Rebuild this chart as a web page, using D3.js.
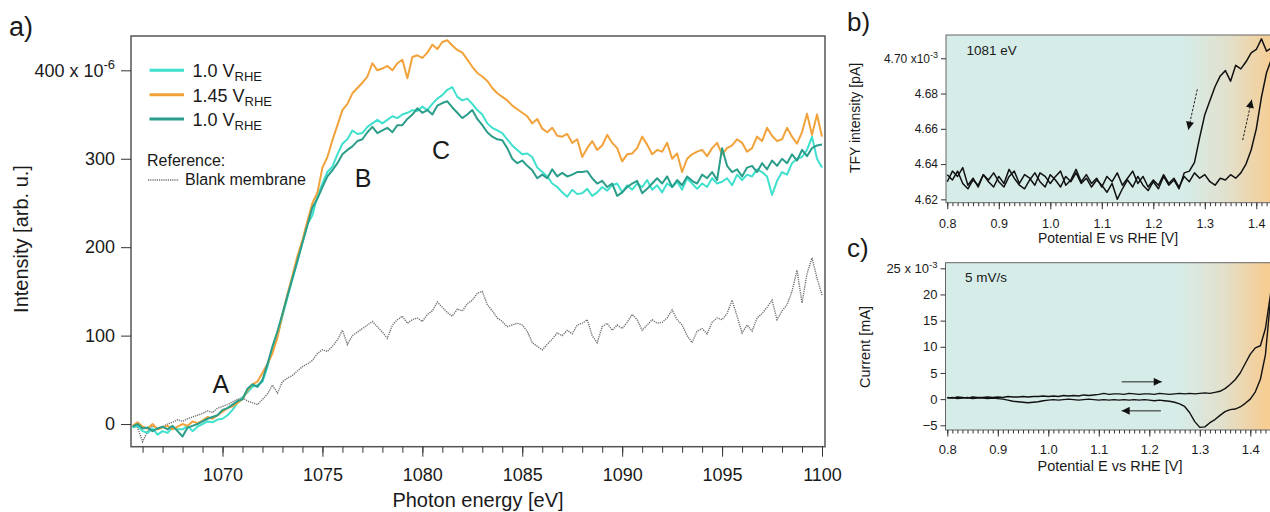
<!DOCTYPE html>
<html><head><meta charset="utf-8">
<script src="https://cdn.jsdelivr.net/npm/d3@7"></script>
<style>
body{margin:0;background:#fff}
svg{display:block}
text{font-family:Arial,"Liberation Sans",sans-serif;fill:#1a1a1a}
</style>
</head><body>
<svg id="chart" width="1270" height="512"></svg>
<script>
// ---------------- DATA ----------------
// Panel a: photon energy grid (start, step in eV)
const energyStart = 1065.5, energyStep = 0.25;
const seriesLabels = ["1.0", "1.45", "1.0"];
const xTicksA = [1070, 1075, 1080, 1085, 1090, 1095, 1100];
const yTicksA = [0, 100, 200, 300, 400];

const turquoise10 = [ -4, -2,
 -8, -10, -5, -12,  -8, -10, -4, -6,  -6, -2, -8, -3,  0, 3, 2, 5,
 6, 10, 16, 24,  30, 36, 42, 44,  48, 65, 85, 100,  122, 143, 164, 184,
 205, 226, 236, 258,  272, 285, 291, 305,  317, 322, 332, 328,  329, 336, 340, 344,
 340, 344, 348, 346,  350, 352, 355, 354,  359, 355, 362, 368,  372, 378, 381, 370,
 366, 368, 362, 355,  350, 340, 335, 332,  329, 322, 315, 310,  305, 306, 302, 290,
 285, 280, 272, 268,  262, 257, 265, 260,  261, 266, 258, 262,  268, 264, 270, 272,
 262, 270, 265, 272,  268, 276, 265, 270,  262, 272, 268, 274,  265, 278, 272, 266,
 272, 268, 278, 272,  274, 278, 270, 282,  276, 282, 280, 288,  285, 280, 259, 275,
 285, 282, 295, 300,  302, 310, 325, 300,  290];

const orange145 = [ -2, 2,
 -3, -5, 0, -6,  -4, -2, -6, -3,  0, -2, 3, 1,  4, 8, 6, 10,
 14, 18, 20, 24,  28, 38, 45, 48,  58, 68, 80, 98,  124, 147, 168, 190,
 208, 230, 250, 262,  290, 302, 321, 338,  355, 362, 374, 380,  386, 393, 408, 400,
 402, 405, 400, 408,  412, 391, 415, 417,  414, 420, 429, 424,  432, 434, 428, 423,
 420, 412, 404, 397,  393, 388, 380, 374,  370, 366, 360, 356,  352, 348, 340, 345,
 334, 330, 335, 326,  325, 328, 318, 322,  302, 312, 320, 310,  315, 327, 318, 312,
 297, 305, 306, 312,  325, 316, 305, 310,  308, 318, 300, 306,  285, 300, 305, 308,
 310, 303, 312, 318,  305, 312, 315, 322,  318, 308, 312, 325,  320, 335, 326, 320,
 322, 335, 325, 317,  330, 351, 327, 350,  325];

const teal10 = [ -3, 0,
 -5, -4, -8, -5,  -3, -6, -2, -8,  -14, -4, -2, 0,  3, 6, 8, 10,
 16, 18, 22, 26,  28, 40, 45, 42,  50, 68, 88, 105,  125, 145, 165, 185,
 205, 225, 245, 255,  268, 280, 287, 295,  305, 310, 314, 320,  322, 330, 336, 329,
 332, 335, 330, 338,  338, 345, 350, 357,  352, 355, 350, 360,  363, 365, 358, 352,
 346, 350, 355, 345,  338, 330, 325, 322,  321, 312, 300, 295,  298, 292, 287, 278,
 282, 278, 288, 280,  284, 280, 282, 285,  285, 286, 278, 272,  275, 268, 272, 258,
 262, 268, 272, 275,  261, 266, 272, 278,  272, 280, 268, 276,  270, 280, 275, 272,
 282, 278, 285, 276,  312, 292, 285, 288,  280, 290, 292, 285,  295, 288, 298, 292,
 300, 295, 305, 298,  310, 303, 312, 315,  316];

const blankMembrane = [ -2, -4,
 -20, -8, -2, -5,  -3, 0, 2, 5,  3, 6, 8, 10,  12, 15, 13, 18,
 20, 22, 25, 28,  30, 26, 24, 22,  28, 34, 44, 35,  48, 52, 55, 60,
 65, 68, 72, 80,  84, 82, 88, 95,  106, 90, 100, 104,  108, 112, 116, 110,
 104, 97, 112, 118,  122, 114, 118, 120,  116, 124, 128, 138,  132, 126, 122, 130,
 128, 136, 140, 148,  150, 135, 128, 120,  116, 110, 112, 114,  112, 105, 92, 88,
 84, 90, 96, 103,  100, 106, 102, 112,  114, 118, 100, 92,  110, 114, 106, 112,
 108, 115, 124, 118,  106, 112, 118, 114,  115, 120, 129, 118,  112, 100, 92, 105,
 108, 102, 115, 120,  118, 125, 140, 122,  103, 112, 105, 120,  125, 132, 140, 118,
 128, 135, 150, 174,  137, 170, 188, 165,  146];

// peak labels [energy, intensity, text]
const peakLabels = [[1069.92, 45, "A"], [1077.03, 278, "B"], [1080.94, 310, "C"]];

// Panel b: TFY at 1081 eV vs potential, 0.80 ... 1.44 V step 0.01
const potStartB = 0.80, potStepB = 0.01;
const xTicksBC = [0.8, 0.9, 1.0, 1.1, 1.2, 1.3, 1.4];
const yTicksB = [4.62, 4.64, 4.66, 4.68, 4.70];
const tfyForward = [
 4.630, 4.636, 4.633, 4.638, 4.628, 4.632, 4.627, 4.634, 4.631, 4.635,
 4.630, 4.627, 4.633, 4.636, 4.629, 4.634, 4.632, 4.628, 4.635, 4.633,
 4.629, 4.633, 4.636, 4.628, 4.631, 4.637, 4.630, 4.634, 4.629, 4.632,
 4.627, 4.633, 4.630, 4.635, 4.628, 4.632, 4.636, 4.629, 4.633, 4.627,
 4.631, 4.628, 4.634, 4.629, 4.632, 4.627, 4.633, 4.630, 4.635, 4.632,
 4.634, 4.630, 4.628, 4.632, 4.631, 4.634, 4.632, 4.635, 4.640, 4.648,
 4.660, 4.678, 4.692, 4.700, 4.706];
const tfyReverse = [
 4.634, 4.631, 4.636, 4.629, 4.626, 4.631, 4.628, 4.634, 4.630, 4.627,
 4.633, 4.629, 4.637, 4.632, 4.628, 4.626, 4.631, 4.635, 4.630, 4.627,
 4.634, 4.631, 4.627, 4.633, 4.630, 4.635, 4.629, 4.632, 4.627, 4.631,
 4.628, 4.624, 4.629, 4.620, 4.626, 4.631, 4.627, 4.633, 4.628, 4.625,
 4.630, 4.626, 4.633, 4.628, 4.631, 4.626, 4.635, 4.636, 4.641, 4.655,
 4.668, 4.676, 4.684, 4.690, 4.693, 4.687, 4.696, 4.694, 4.698, 4.703,
 4.705, 4.711, 4.704, 4.706, 4.704];
// dashed arrows [[V0,T0],[V1,T1]]
const arrowsB = [[[1.2854, 4.6824], [1.2680, 4.6595]], [[1.3736, 4.6536], [1.3910, 4.6765]]];

// Panel c: CV current (mA) at 5 mV/s, 0.80 ... 1.45 V step 0.01
const potStartC = 0.80, potStepC = 0.01;
const yTicksC = [-5, 0, 5, 10, 15, 20, 25];
const currentForward = [
 0.3, 0.2, 0.4, 0.3, 0.2, 0.4, 0.3, 0.3, 0.4, 0.3,
 0.4, 0.3, 0.5, 0.4, 0.4, 0.5, 0.4, 0.5, 0.5, 0.6,
 0.5, 0.6, 0.5, 0.7, 0.6, 0.7, 0.6, 0.8, 0.7, 0.8,
 0.9, 1.1, 0.9, 1.0, 1.0, 0.9, 1.1, 1.0, 0.9, 1.0,
 1.0, 0.9, 1.1, 1.0, 0.9, 1.0, 1.1, 1.0, 1.1, 1.0,
 1.1, 1.2, 1.1, 1.3, 1.5, 2.0, 2.8, 3.7, 5.0, 6.8,
 8.6, 9.8, 10.2, 13.5, 20.0, 30.0];
const currentReverse = [
 0.2, 0.3, 0.1, 0.2, 0.3, 0.1, 0.2, 0.2, 0.1, 0.2,
 0.1, 0.0, -0.2, -0.4, -0.5, -0.6, -0.7, -0.6, -0.5, -0.3,
 -0.2, -0.1, -0.2, -0.1, 0.0, -0.1, -0.2, -0.1, 0.0, -0.1,
 -0.2, -0.1, -0.2, -0.1, -0.2, -0.1, -0.2, -0.1, -0.2, -0.1,
 -0.2, -0.3, -0.2, -0.3, -0.4, -0.6, -0.9, -1.4, -2.6, -4.3,
 -5.4, -5.3, -4.5, -3.9, -3.1, -2.4, -2.0, -1.9, -1.5, -0.8,
 0.0, 1.4, 3.8, 8.5, 19.0, 30.0];
// arrows [[V0,I0],[V1,I1]]
const arrowsC = [[[1.1453, 3.3], [1.2246, 3.3]], [[1.2230, -2.24], [1.1453, -2.24]]];

// ---------------- DRAW ----------------
const svg = d3.select("#chart");
const defs = svg.append("defs");
const colors = {turq: "#3fe0cd", orange: "#f1a23a", teal: "#2b9d8b", ref: "#6e6e6e"};

function styleAxis(g, fs) {
  g.select(".domain").remove();
  g.selectAll(".tick line").attr("stroke", "#333").attr("stroke-width", 1);
  g.selectAll(".tick text").attr("font-size", fs).attr("fill", "#1a1a1a")
    .attr("font-family", "Arial, 'Liberation Sans', sans-serif");
}

// ===== Panel a =====
const ax = d3.scaleLinear().domain([1065.42, 1100.15]).range([131, 825]);
const ay = d3.scaleLinear().domain([-25.6, 438.8]).range([446.7, 36]);
const energy = d3.range(orange145.length).map(i => energyStart + i * energyStep);

defs.append("clipPath").attr("id", "clipA").append("rect")
  .attr("x", ax.range()[0]).attr("y", ay.range()[1])
  .attr("width", ax.range()[1] - ax.range()[0]).attr("height", ay.range()[0] - ay.range()[1]);

const gA = svg.append("g");
const lineA = d3.line().x((d, i) => ax(energy[i])).y(d => ay(d));
const plotA = gA.append("g").attr("clip-path", "url(#clipA)");
plotA.append("path").attr("d", lineA(blankMembrane)).attr("fill", "none")
  .attr("stroke", colors.ref).attr("stroke-width", 1.4).attr("stroke-dasharray", "1.2,1");
plotA.append("path").attr("d", lineA(turquoise10)).attr("fill", "none")
  .attr("stroke", colors.turq).attr("stroke-width", 2).attr("stroke-linejoin", "round");
plotA.append("path").attr("d", lineA(orange145)).attr("fill", "none")
  .attr("stroke", colors.orange).attr("stroke-width", 2).attr("stroke-linejoin", "round");
plotA.append("path").attr("d", lineA(teal10)).attr("fill", "none")
  .attr("stroke", colors.teal).attr("stroke-width", 2).attr("stroke-linejoin", "round");

gA.append("rect").attr("x", ax.range()[0]).attr("y", ay.range()[1])
  .attr("width", ax.range()[1] - ax.range()[0]).attr("height", ay.range()[0] - ay.range()[1])
  .attr("fill", "none").attr("stroke", "#555").attr("stroke-width", 1.5);

gA.append("g").attr("transform", `translate(0,${ay.range()[0]})`)
  .call(d3.axisBottom(ax).tickValues(d3.range(1066, 1101)).tickSize(6).tickFormat(""))
  .call(g => styleAxis(g, 18));
gA.append("g").attr("transform", `translate(0,${ay.range()[0]})`)
  .call(d3.axisBottom(ax).tickValues(xTicksA).tickSize(10).tickPadding(12).tickFormat(d3.format("d")))
  .call(g => styleAxis(g, 18));
const yAxA = gA.append("g").attr("transform", `translate(${ax.range()[0]},0)`)
  .call(d3.axisLeft(ay).tickValues(yTicksA).tickSize(10).tickPadding(6).tickFormat(d3.format("d")))
  .call(g => styleAxis(g, 18));
yAxA.selectAll(".tick text").filter(d => d === 400).each(function () {
  const t = d3.select(this).text("");
  t.append("tspan").text("400 x 10");
  t.append("tspan").attr("dy", "-0.55em").attr("font-size", 13).text("-6");
});

gA.append("text").attr("x", 9).attr("y", 36).attr("font-size", 27).text("a)");
gA.append("text").attr("x", 478).attr("y", 507).attr("text-anchor", "middle")
  .attr("font-size", 20).text("Photon energy [eV]");
gA.append("text").attr("transform", "translate(28,239) rotate(-90)").attr("text-anchor", "middle")
  .attr("font-size", 20).text("Intensity [arb. u.]");

peakLabels.forEach(([e, v, s]) => {
  gA.append("text").attr("x", ax(e)).attr("y", ay(v)).attr("dy", "0.36em")
    .attr("text-anchor", "middle").attr("font-size", 25).text(s);
});

// legend
const legCols = [colors.turq, colors.orange, colors.teal];
seriesLabels.forEach((lab, i) => {
  const yy = 70.3 + i * 24.4;
  gA.append("line").attr("x1", 149.5).attr("x2", 184).attr("y1", yy).attr("y2", yy)
    .attr("stroke", legCols[i]).attr("stroke-width", 3);
  const t = gA.append("text").attr("x", 192.5).attr("y", yy + 7).attr("font-size", 18);
  t.append("tspan").text(lab + " V");
  t.append("tspan").attr("dy", 4).attr("font-size", 13).text("RHE");
});
gA.append("text").attr("x", 147).attr("y", 166).attr("font-size", 16).text("Reference:");
gA.append("line").attr("x1", 148).attr("x2", 179).attr("y1", 180).attr("y2", 180)
  .attr("stroke", colors.ref).attr("stroke-width", 1.4).attr("stroke-dasharray", "1.2,1");
gA.append("text").attr("x", 185).attr("y", 185).attr("font-size", 16).text("Blank membrane");

// ===== shared for b & c =====
function bgGradient(id, xs) {
  const gr = defs.append("linearGradient").attr("id", id)
    .attr("gradientUnits", "userSpaceOnUse")
    .attr("x1", xs(1.26)).attr("x2", xs(1.43)).attr("y1", 0).attr("y2", 0);
  gr.append("stop").attr("offset", 0).attr("stop-color", "#d6ece8");
  gr.append("stop").attr("offset", 0.5).attr("stop-color", "#e2e0cc");
  gr.append("stop").attr("offset", 1).attr("stop-color", "#f6cd93");
}
function arrowMarker(id, len, wid) {
  defs.append("marker").attr("id", id).attr("viewBox", "0 0 10 10")
    .attr("refX", 10).attr("refY", 5).attr("markerUnits", "userSpaceOnUse")
    .attr("markerWidth", len).attr("markerHeight", wid).attr("orient", "auto")
    .append("path").attr("d", "M0,0L10,5L0,10z").attr("fill", "#111");
}
arrowMarker("arrB", 9, 8);
arrowMarker("arrC", 12, 8);

// ===== Panel b =====
const bx = d3.scaleLinear().domain([0.8, 1.45]).range([947.3, 947.3 + 0.65 * 515]);
const by = d3.scaleLinear().domain([4.6181, 4.7132]).range([202.7, 35]);
const potB = d3.range(tfyForward.length).map(i => potStartB + i * potStepB);
const leftB = 946, rightB = 1290;
bgGradient("gradB", bx);
defs.append("clipPath").attr("id", "clipB").append("rect")
  .attr("x", leftB).attr("y", by.range()[1]).attr("width", rightB - leftB).attr("height", by.range()[0] - by.range()[1]);
const gB = svg.append("g");
gB.append("rect").attr("x", leftB).attr("y", by.range()[1]).attr("width", rightB - leftB)
  .attr("height", by.range()[0] - by.range()[1]).attr("fill", "url(#gradB)")
  .attr("stroke", "#666").attr("stroke-width", 1);
const lineB = d3.line().x((d, i) => bx(potB[i])).y(d => by(d));
const plotB = gB.append("g").attr("clip-path", "url(#clipB)");
[tfyForward, tfyReverse].forEach(s => plotB.append("path").attr("d", lineB(s)).attr("fill", "none")
  .attr("stroke", "#111").attr("stroke-width", 1.5).attr("stroke-linejoin", "round"));
arrowsB.forEach(([p0, p1]) => plotB.append("line")
  .attr("x1", bx(p0[0])).attr("y1", by(p0[1])).attr("x2", bx(p1[0])).attr("y2", by(p1[1]))
  .attr("stroke", "#222").attr("stroke-width", 1).attr("stroke-dasharray", "2.5,1.5")
  .attr("marker-end", "url(#arrB)"));
gB.append("g").attr("transform", `translate(0,${by.range()[0]})`)
  .call(d3.axisBottom(bx).tickValues(d3.range(80, 143).map(v => v / 100)).tickSize(3.5).tickFormat(""))
  .call(g => styleAxis(g, 12));
gB.append("g").attr("transform", `translate(0,${by.range()[0]})`)
  .call(d3.axisBottom(bx).tickValues(xTicksBC).tickSize(6.5).tickPadding(9.5).tickFormat(d3.format(".1f")))
  .call(g => styleAxis(g, 12.5));
const yAxB = gB.append("g").attr("transform", `translate(${leftB},0)`)
  .call(d3.axisLeft(by).tickValues(yTicksB).tickSize(5).tickPadding(3).tickFormat(d3.format(".2f")))
  .call(g => styleAxis(g, 12));
yAxB.selectAll(".tick text").filter(d => d === 4.70).each(function () {
  const t = d3.select(this).text("");
  t.append("tspan").text("4.70 x10");
  t.append("tspan").attr("dy", "-0.5em").attr("font-size", 9).text("-3");
});
gB.append("text").attr("x", 847).attr("y", 31).attr("font-size", 26).text("b)");
gB.append("text").attr("x", 966.5).attr("y", 55).attr("font-size", 13.5).text("1081 eV");
gB.append("text").attr("x", 1108).attr("y", 243).attr("text-anchor", "middle").attr("font-size", 14).text("Potential E vs RHE [V]");
gB.append("text").attr("transform", "translate(860,118) rotate(-90)").attr("text-anchor", "middle")
  .attr("font-size", 14).text("TFY intensity [pA]");

// ===== Panel c =====
const cx = d3.scaleLinear().domain([0.8, 1.45]).range([947.3, 947.3 + 0.65 * 505]);
const cy = d3.scaleLinear().domain([-5.9, 26.07]).range([430, 262.7]);
const potC = d3.range(currentForward.length).map(i => potStartC + i * potStepC);
const leftC = 945.5, rightC = 1290;
bgGradient("gradC", cx);
defs.append("clipPath").attr("id", "clipC").append("rect")
  .attr("x", leftC).attr("y", cy.range()[1]).attr("width", rightC - leftC).attr("height", cy.range()[0] - cy.range()[1]);
const gC = svg.append("g");
gC.append("rect").attr("x", leftC).attr("y", cy.range()[1]).attr("width", rightC - leftC)
  .attr("height", cy.range()[0] - cy.range()[1]).attr("fill", "url(#gradC)")
  .attr("stroke", "#666").attr("stroke-width", 1);
const lineC = d3.line().x((d, i) => cx(potC[i])).y(d => cy(d));
const plotC = gC.append("g").attr("clip-path", "url(#clipC)");
[currentForward, currentReverse].forEach(s => plotC.append("path").attr("d", lineC(s)).attr("fill", "none")
  .attr("stroke", "#111").attr("stroke-width", 1.4).attr("stroke-linejoin", "round"));
arrowsC.forEach(([p0, p1]) => plotC.append("line")
  .attr("x1", cx(p0[0])).attr("y1", cy(p0[1])).attr("x2", cx(p1[0])).attr("y2", cy(p1[1]))
  .attr("stroke", "#222").attr("stroke-width", 1).attr("marker-end", "url(#arrC)"));
gC.append("g").attr("transform", `translate(0,${cy.range()[0]})`)
  .call(d3.axisBottom(cx).tickValues(d3.range(80, 145).map(v => v / 100)).tickSize(3.5).tickFormat(""))
  .call(g => styleAxis(g, 13));
gC.append("g").attr("transform", `translate(0,${cy.range()[0]})`)
  .call(d3.axisBottom(cx).tickValues(xTicksBC).tickSize(6.5).tickPadding(8.5).tickFormat(d3.format(".1f")))
  .call(g => styleAxis(g, 13));
const yAxC = gC.append("g").attr("transform", `translate(${leftC},0)`)
  .call(d3.axisLeft(cy).tickValues(yTicksC).tickSize(5).tickPadding(3).tickFormat(d3.format("d")))
  .call(g => styleAxis(g, 13));
yAxC.selectAll(".tick text").filter(d => d === 25).each(function () {
  const t = d3.select(this).text("");
  t.append("tspan").text("25 x 10");
  t.append("tspan").attr("dy", "-0.5em").attr("font-size", 9.5).text("-3");
});
gC.append("text").attr("x", 847).attr("y", 257).attr("font-size", 26).text("c)");
gC.append("text").attr("x", 965).attr("y", 281.5).attr("font-size", 13.5).text("5 mV/s");
gC.append("text").attr("x", 1110).attr("y", 471).attr("text-anchor", "middle").attr("font-size", 14.5).text("Potential E vs RHE [V]");
gC.append("text").attr("transform", "translate(870,347) rotate(-90)").attr("text-anchor", "middle")
  .attr("font-size", 14.5).text("Current [mA]");
</script>
</body></html>
